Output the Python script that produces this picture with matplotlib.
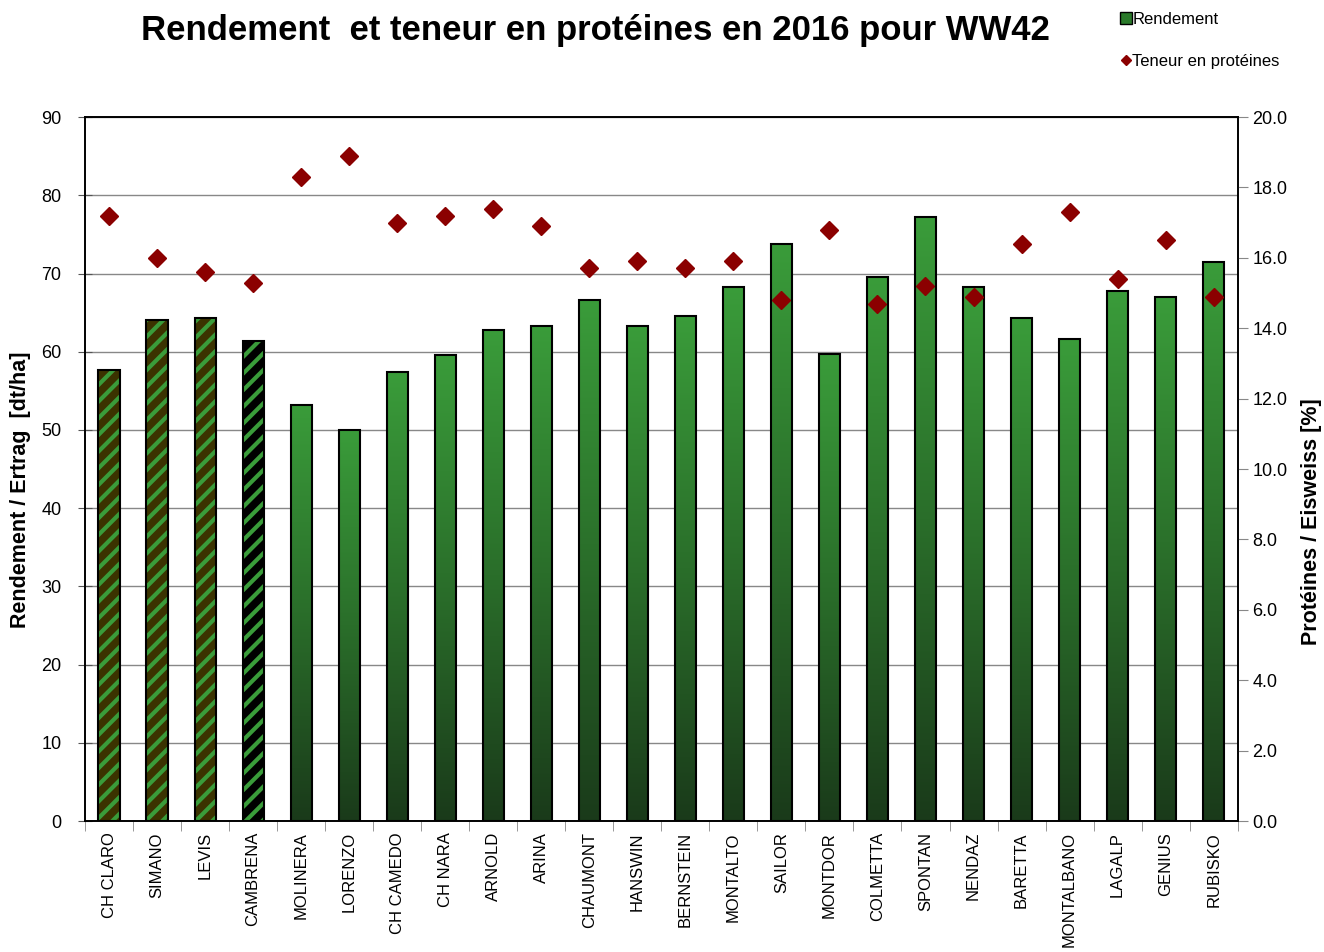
import numpy as np
import matplotlib
matplotlib.use('Agg')
import matplotlib.pyplot as plt
from matplotlib.colors import LinearSegmentedColormap
from matplotlib.lines import Line2D

plt.rcParams['font.family'] = ['Liberation Sans', 'DejaVu Sans']
plt.rcParams['hatch.linewidth'] = 3.0

varieties = ['CH CLARO', 'SIMANO', 'LEVIS', 'CAMBRENA', 'MOLINERA', 'LORENZO',
             'CH CAMEDO', 'CH NARA', 'ARNOLD', 'ARINA', 'CHAUMONT', 'HANSWIN',
             'BERNSTEIN', 'MONTALTO', 'SAILOR', 'MONTDOR', 'COLMETTA', 'SPONTAN',
             'NENDAZ', 'BARETTA', 'MONTALBANO', 'LAGALP', 'GENIUS', 'RUBISKO']
rendement = [57.7, 64.1, 64.3, 61.4, 53.2, 50.0, 57.4, 59.6, 62.8, 63.3, 66.6, 63.3,
             64.6, 68.3, 73.8, 59.7, 69.5, 77.2, 68.3, 64.3, 61.6, 67.8, 67.0, 71.5]
proteines = [17.2, 16.0, 15.6, 15.3, 18.3, 18.9, 17.0, 17.2, 17.4, 16.9, 15.7, 15.9,
             15.7, 15.9, 14.8, 16.8, 14.7, 15.2, 14.9, 16.4, 17.3, 15.4, 16.5, 14.9]
# hatched bars and their background colour
hatched = {'CH CLARO': '#3b3300', 'SIMANO': '#3b3300', 'LEVIS': '#3b3300', 'CAMBRENA': '#000000'}

fig = plt.figure(figsize=(13.24, 9.52), dpi=100)
ax = fig.add_axes([0.0642, 0.1376, 0.8706, 0.7394])
ax2 = ax.twinx()

x = np.arange(len(varieties))
w = 0.44
cmap = LinearSegmentedColormap.from_list('g', ['#1a3a1a', '#2a6e2a', '#3a9c3a'])
grad = np.linspace(0, 1, 256).reshape(-1, 1)

for xi, name, val in zip(x, varieties, rendement):
    if name in hatched:
        ax.bar(xi, val, w, color=hatched[name], edgecolor='#3a9c3a', hatch='//',
               linewidth=0, zorder=2)
        ax.bar(xi, val, w, color='none', edgecolor='black', linewidth=1.5, zorder=3)
    else:
        b = ax.bar(xi, val, w, color='none', edgecolor='black', linewidth=1.5, zorder=3)[0]
        im = ax.imshow(grad, extent=[xi - w / 2, xi + w / 2, 0, val], origin='lower',
                       aspect='auto', cmap=cmap, zorder=2)
        im.set_clip_path(b)

ax.set_xlim(-0.5, len(varieties) - 0.5)
ax.set_ylim(0, 90)
ax.set_yticks(np.arange(0, 91, 10))
ax.yaxis.grid(True, color='#888888', linewidth=1)
ax.set_axisbelow(True)
ax.set_xticks(x)
ax.set_xticklabels(varieties, rotation=90, fontsize=12)
ax.set_xticks(np.arange(-0.5, len(varieties), 1), minor=True)
ax.tick_params(axis='x', which='major', length=0, pad=8)
ax.tick_params(axis='x', which='minor', length=7, color='#888888', direction='out')
ax.tick_params(axis='y', labelsize=13, direction='inout', length=10, color='#555555', pad=12)
ax.set_ylabel('Rendement / Ertrag  [dt/ha]', fontsize=15.5, fontweight='bold')
ax.yaxis.set_label_coords(-0.047, 0.47)

ax2.plot(x, proteines, linestyle='none', marker='D', markersize=9, color='#8b0000', zorder=4)
ax2.set_ylim(0, 20)
ax2.set_yticks(np.arange(0, 20.1, 2))
ax2.set_yticklabels(['%.1f' % v for v in np.arange(0, 20.1, 2)])
ax2.tick_params(axis='y', labelsize=13, direction='out', length=7, color='#888888')
ax2.set_ylabel('Protéines / Eisweiss [%]', fontsize=15.5, fontweight='bold')
ax2.yaxis.set_label_coords(1.055, 0.426)

for a in (ax, ax2):
    for s in a.spines.values():
        s.set_linewidth(1.2)

fig.text(0.45, 0.968, 'Rendement  et teneur en protéines en 2016 pour WW42',
         ha='center', va='center', fontsize=25, fontweight='bold')

handles = [Line2D([], [], linestyle='none', marker='s', markersize=8,
                  markerfacecolor='#2a7a2a', markeredgecolor='black'),
           Line2D([], [], linestyle='none', marker='D', markersize=5, color='#8b0000')]
fig.legend(handles, ['Rendement', 'Teneur en protéines'], loc='upper left',
           bbox_to_anchor=(0.835, 1.003), frameon=False, fontsize=12,
           handlelength=0.6, handletextpad=0.1, labelspacing=1.6)

fig.savefig('out.png', dpi=100)
